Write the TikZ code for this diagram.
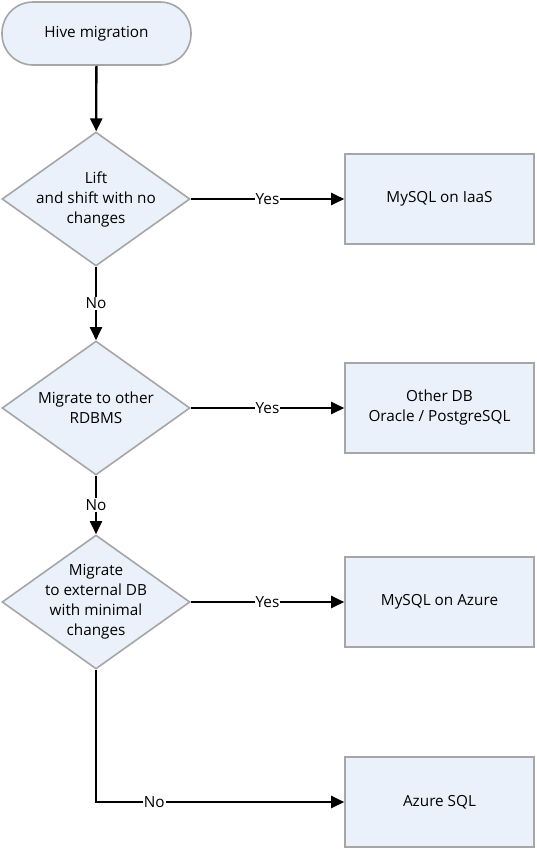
\documentclass[tikz,border=0pt]{standalone}
\usepackage{fontspec}
\setmainfont{Open Sans}
\usetikzlibrary{shapes.geometric,arrows.meta}
\definecolor{shapefill}{HTML}{EAF1FA}
\definecolor{shapeline}{HTML}{A6A6A6}
\tikzset{
  base/.style={draw=shapeline, fill=shapefill, line width=1.6pt},
  term/.style={base, rectangle, rounded corners=31pt, minimum width=189pt, minimum height=63pt, inner sep=0pt},
  dia/.style={base, diamond, minimum width=188pt, minimum height=134pt, inner sep=0pt, aspect=1.403},
  outbox/.style={base, rectangle, minimum width=189pt, minimum height=90pt, inner sep=0pt},
  txt/.style={align=center, font=\fontsize{15.3}{20}\selectfont, inner sep=0pt},
  conn/.style={line width=2.3pt, -{Triangle[length=13pt,width=12pt]}},
  lab/.style={fill=white, inner sep=1pt, font=\fontsize{15.3}{20}\selectfont}
}
\begin{document}
\begin{tikzpicture}[x=1pt,y=-1pt]
\useasboundingbox (0,0) rectangle (536,849);
\node[term] (start) at (96.5,33.5) {};
\node[txt] at (start) {Hive migration};
\node[dia] (d1) at (96,199) {};
\node[txt] at (d1) {Lift\\and shift with no\\changes};
\node[dia] (d2) at (96,408) {};
\node[txt] at (d2) {Migrate to other\\RDBMS};
\node[dia] (d3) at (96,602) {};
\node[txt] at (d3) {Migrate\\to external DB\\with minimal\\changes};
\node[outbox] (b1) at (439.5,199) {};
\node[txt] at (b1) {MySQL on IaaS};
\node[outbox] (b2) at (439.5,408) {};
\node[txt] at (b2) {Other DB\\Oracle / PostgreSQL};
\node[outbox] (b3) at (439.5,602) {};
\node[txt] at (b3) {MySQL on Azure};
\node[outbox] (b4) at (439.5,802) {};
\node[txt] at (b4) {Azure SQL};
\coordinate (corner) at (96,802);
\draw[conn] (start) -- (d1);
\draw[conn] (d1) -- node[lab]{Yes} (b1);
\draw[conn] (d1) -- node[lab]{No} (d2);
\draw[conn] (d2) -- node[lab]{Yes} (b2);
\draw[conn] (d2) -- node[lab]{No} (d3);
\draw[conn] (d3) -- node[lab]{Yes} (b3);
\draw[conn] (d3.south) -- (corner) -- node[lab,pos=0.235]{No} (b4.west);
\end{tikzpicture}
\end{document}
